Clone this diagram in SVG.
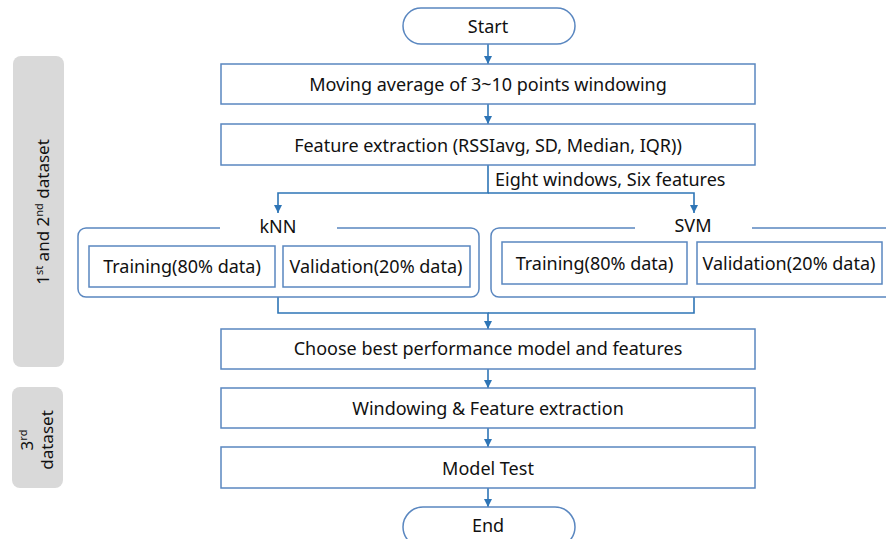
<svg xmlns="http://www.w3.org/2000/svg" width="886" height="539" viewBox="0 0 886 539">
  <defs>
    <marker id="arrow" viewBox="0 0 8 8" refX="8" refY="4" markerWidth="8" markerHeight="8" markerUnits="userSpaceOnUse" orient="auto">
      <path d="M0 0 L8 4 L0 8 Z" fill="#2e75b6"/>
    </marker>
    <style>
      .box { fill: #ffffff; stroke: #5a87c0; stroke-width: 1.5; }
      .grp { fill: none; stroke: #5a87c0; stroke-width: 1.5; }
      .band { fill: #d9d9d9; }
      .conn { fill: none; stroke: #2e75b6; stroke-width: 1.6; }
      text { font-family: "Noto Sans", "Open Sans", sans-serif; font-size: 18px; fill: #111111; }
      .side { font-size: 17px; }
      .c { text-anchor: middle; }
    </style>
  </defs>
  <rect width="886" height="539" fill="#ffffff"/>

  <!-- side bands -->
  <g id="band-1-2">
    <rect class="band" x="13" y="56" width="51" height="311" rx="8"/>
    <text class="c side" transform="translate(48.5,212) rotate(-90)">1<tspan font-size="11" dy="-6">st</tspan><tspan dy="6"> and 2</tspan><tspan font-size="11" dy="-6">nd</tspan><tspan dy="6"> dataset</tspan></text>
  </g>
  <g id="band-3">
    <rect class="band" x="12" y="387" width="51" height="101" rx="8"/>
    <text class="c side" transform="translate(33,440) rotate(-90)">3<tspan font-size="11" dy="-6">rd</tspan></text>
    <text class="c side" transform="translate(53,440) rotate(-90)">dataset</text>
  </g>

  <!-- connectors -->
  <g id="connectors">
    <path class="conn" d="M488 44 V64" marker-end="url(#arrow)"/>
    <path class="conn" d="M488 104 V124" marker-end="url(#arrow)"/>
    <path class="conn" d="M488 165 V193 H278 V213" marker-end="url(#arrow)"/>
    <path class="conn" d="M488 193 H694 V213" marker-end="url(#arrow)"/>
    <path class="conn" d="M278 297 V313 H488 V329" marker-end="url(#arrow)"/>
    <path class="conn" d="M694 297 V313 H488"/>
    <path class="conn" d="M488 369 V388" marker-end="url(#arrow)"/>
    <path class="conn" d="M488 428 V447" marker-end="url(#arrow)"/>
    <path class="conn" d="M488 488 V507" marker-end="url(#arrow)"/>
    <text x="495" y="186">Eight windows, Six features</text>
  </g>

  <g id="start">
    <rect class="box" x="403" y="8" width="172" height="36" rx="18"/>
    <text class="c" x="488" y="33">Start</text>
  </g>
  <g id="moving-average">
    <rect class="box" x="221" y="64" width="534" height="40"/>
    <text class="c" x="488" y="91">Moving average of 3~10 points windowing</text>
  </g>
  <g id="feature-extraction">
    <rect class="box" x="221" y="124" width="534" height="41"/>
    <text class="c" x="488" y="151.5">Feature extraction (RSSIavg, SD, Median, IQR))</text>
  </g>

  <g id="knn">
    <path class="grp" d="M220 228 H86 A8 8 0 0 0 78 236 V289 A8 8 0 0 0 86 297 H471 A8 8 0 0 0 479 289 V236 A8 8 0 0 0 471 228 H337"/>
    <text class="c" x="278" y="233">kNN</text>
    <rect class="box" x="89" y="246" width="186" height="41"/>
    <text class="c" x="182" y="273">Training(80% data)</text>
    <rect class="box" x="283" y="246" width="187" height="41"/>
    <text class="c" x="376" y="273">Validation(20% data)</text>
  </g>

  <g id="svm">
    <path class="grp" d="M635 228 H499 A8 8 0 0 0 491 236 V289 A8 8 0 0 0 499 297 H892 M752 228 H892"/>
    <text class="c" x="693" y="231.5">SVM</text>
    <rect class="box" x="502" y="242" width="185" height="42"/>
    <text class="c" x="594.5" y="270">Training(80% data)</text>
    <rect class="box" x="697" y="242" width="185" height="42"/>
    <text class="c" x="789" y="270">Validation(20% data)</text>
  </g>

  <g id="choose-best">
    <rect class="box" x="221" y="329" width="534" height="40"/>
    <text class="c" x="488" y="355">Choose best performance model and features</text>
  </g>
  <g id="windowing-feature">
    <rect class="box" x="221" y="388" width="534" height="40"/>
    <text class="c" x="488" y="415">Windowing &amp; Feature extraction</text>
  </g>
  <g id="model-test">
    <rect class="box" x="221" y="447" width="534" height="41"/>
    <text class="c" x="488" y="475">Model Test</text>
  </g>
  <g id="end">
    <rect class="box" x="403" y="507" width="172" height="40" rx="20"/>
    <text class="c" x="488" y="532">End</text>
  </g>
</svg>
